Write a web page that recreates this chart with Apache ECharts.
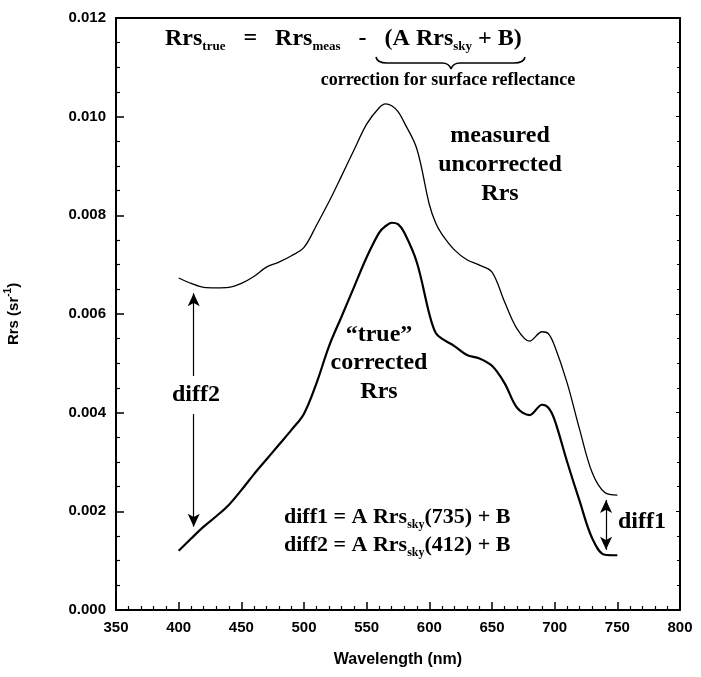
<!DOCTYPE html>
<html><head><meta charset="utf-8">
<script src="https://cdn.jsdelivr.net/npm/echarts@6/dist/echarts.min.js"></script>
<style>html,body{margin:0;padding:0;background:#fff}#c{width:701px;height:677px}</style>
</head><body><div id="c"></div>
<script>
// ---- data ----
const wavelengths = [400,410,420,430,440,450,460,470,480,490,500,510,520,530,540,550,560,565,570,575,580,590,600,605,610,620,630,640,650,660,670,680,690,695,700,710,720,730,740,750];
const measuredRrs = [6.73,6.62,6.54,6.53,6.54,6.62,6.76,6.95,7.05,7.18,7.35,7.80,8.28,8.80,9.33,9.85,10.18,10.26,10.22,10.10,9.88,9.35,8.22,7.85,7.62,7.30,7.10,6.99,6.85,6.25,5.70,5.45,5.64,5.60,5.35,4.60,3.65,2.78,2.38,2.33];
const trueRrs = [1.20,1.45,1.69,1.90,2.13,2.43,2.75,3.05,3.35,3.65,3.98,4.60,5.35,5.95,6.55,7.15,7.65,7.78,7.85,7.82,7.65,7.05,6.00,5.62,5.50,5.35,5.17,5.10,4.95,4.60,4.10,3.95,4.16,4.10,3.85,3.00,2.20,1.45,1.12,1.11];
const scale = 1e-3;
const xTickValues = [350,400,450,500,550,600,650,700,750,800];
const yTickValues = [0.000,0.002,0.004,0.006,0.008,0.010,0.012];
const diff2Arrow = [412, 6.42, 1.69];
const diff1Arrow = [741, 2.23, 1.22];

const chart = echarts.init(document.getElementById('c'), null, {renderer:'canvas'});
const sans = '"Liberation Sans", Arial, sans-serif';
const serif = '"Liberation Serif", "Times New Roman", serif';

const pairs = (ys) => wavelengths.map((w,i)=>[w, ys[i]*scale]);

const xBase = {
  type:'value', min:xTickValues[0], max:xTickValues[xTickValues.length-1], interval:50,
  axisLine:{show:true, onZero:false, lineStyle:{color:'#000', width:2}},
  axisTick:{show:true, inside:true, length:8, lineStyle:{color:'#000', width:1.5}},
  minorTick:{show:true, splitNumber:5, length:4, lineStyle:{color:'#000', width:1.2}},
  splitLine:{show:false}
};
const yBase = {
  type:'value', min:yTickValues[0], max:yTickValues[yTickValues.length-1], interval:0.002,
  axisLine:{show:true, onZero:false, lineStyle:{color:'#000', width:2}},
  axisTick:{show:true, inside:true, length:8, lineStyle:{color:'#000', width:1.5}},
  minorTick:{show:true, splitNumber:4, length:4, lineStyle:{color:'#000', width:1.2}},
  splitLine:{show:false}
};

const braceStyle = {stroke:'#000', fill:null, lineWidth:1.6};
const lbl = {fontSize:24, fontFamily:serif, fontWeight:'bold', fill:'#000'};

const option = {
  animation:false,
  backgroundColor:'#fff',
  grid:{left:116, right:21, top:18, bottom:67, containLabel:false, outerBoundsMode:'none'},
  xAxis:[
    Object.assign({}, xBase, {
      position:'bottom',
      axisLabel:{show:true, color:'#000', fontFamily:sans, fontWeight:'bold', fontSize:15, margin:10},
      name:'Wavelength (nm)', nameLocation:'middle', nameGap:42,
      nameTextStyle:{color:'#000', fontFamily:sans, fontWeight:'bold', fontSize:16}
    }),
    Object.assign({}, xBase, {position:'top', axisLabel:{show:false}, minorTick:{show:false}, axisTick:{show:false}})
  ],
  yAxis:[
    Object.assign({}, yBase, {
      position:'left',
      axisLabel:{show:true, color:'#000', fontFamily:sans, fontWeight:'bold', fontSize:15, margin:10,
        formatter:(v)=>v.toFixed(3)},
      name:'Rrs (sr{sup|-1})', nameLocation:'middle', nameGap:91, nameRotate:90,
      nameTextStyle:{color:'#000', fontFamily:sans, fontWeight:'bold', fontSize:15, lineHeight:22,
        rich:{sup:{fontSize:10, fontFamily:sans, fontWeight:'bold', verticalAlign:'top', lineHeight:14}}}
    }),
    Object.assign({}, yBase, {position:'right', axisLabel:{show:false}, minorTick:{show:true, splitNumber:4, length:3, lineStyle:{color:'#000'}}, axisTick:{show:true, inside:true, length:4, lineStyle:{color:'#000'}}})
  ],
  series:[
    {
      name:'measured', type:'line', data:pairs(measuredRrs), showSymbol:false, smooth:0.35,
      lineStyle:{color:'#000', width:1.3}, silent:true,
      markLine:{
        silent:true, symbol:['arrow','arrow'], symbolSize:[9,13], label:{show:false},
        lineStyle:{color:'#000', width:1.2, type:'solid'},
        data:[
          [{coord:[diff2Arrow[0], diff2Arrow[1]*scale]},{coord:[diff2Arrow[0], diff2Arrow[2]*scale]}],
          [{coord:[diff1Arrow[0], diff1Arrow[1]*scale]},{coord:[diff1Arrow[0], diff1Arrow[2]*scale]}]
        ]
      }
    },
    {
      name:'true', type:'line', data:pairs(trueRrs), showSymbol:false, smooth:0.35,
      lineStyle:{color:'#000', width:2.2}, silent:true
    }
  ],
  graphic:[
    {type:'text', z:100, style:{
      x:165, y:39, align:'left', verticalAlign:'middle',
      text:'{m|Rrs}{s|true}{m|   =   Rrs}{s|meas}{m|   -   (A Rrs}{s|sky}{m| + B)}',
      rich:{
        m:{fontSize:24, fontFamily:serif, fontWeight:'bold', fill:'#000', lineHeight:28, verticalAlign:'middle'},
        s:{fontSize:13, fontFamily:serif, fontWeight:'bold', fill:'#000', lineHeight:8, verticalAlign:'bottom'}
      }
    }},
    {type:'group', z:100, children:[
      {type:'bezierCurve', shape:{x1:376,y1:57,cpx1:377,cpy1:63,x2:387,y2:63}, style:braceStyle},
      {type:'line', shape:{x1:387,y1:63,x2:442,y2:63}, style:braceStyle},
      {type:'bezierCurve', shape:{x1:442,y1:63,cpx1:449,cpy1:63,x2:451,y2:69}, style:braceStyle},
      {type:'bezierCurve', shape:{x1:451,y1:69,cpx1:453,cpy1:63,x2:460,y2:63}, style:braceStyle},
      {type:'line', shape:{x1:460,y1:63,x2:514,y2:63}, style:braceStyle},
      {type:'bezierCurve', shape:{x1:514,y1:63,cpx1:524,cpy1:63,x2:525,y2:57}, style:braceStyle}
    ]},
    {type:'text', z:100, style:{x:448, y:80, align:'center', verticalAlign:'middle',
      text:'correction for surface reflectance', fontSize:18, fontFamily:serif, fontWeight:'bold', fill:'#000'}},
    {type:'text', z:100, style:Object.assign({x:500, y:165, align:'center', verticalAlign:'middle',
      text:'measured\nuncorrected\nRrs', lineHeight:29}, lbl)},
    {type:'text', z:100, style:Object.assign({x:379, y:363, align:'center', verticalAlign:'middle',
      text:'\u201Ctrue\u201D\ncorrected\nRrs', lineHeight:28.5}, lbl)},
    {type:'text', z:100, style:Object.assign({x:196, y:395, align:'center', verticalAlign:'middle',
      text:'diff2', backgroundColor:'#fff', padding:[7,2,7,2]}, lbl)},
    {type:'text', z:100, style:Object.assign({x:618, y:522, align:'left', verticalAlign:'middle',
      text:'diff1'}, lbl)},
    {type:'text', z:100, style:{x:284, y:531, align:'left', verticalAlign:'middle',
      text:'{m|diff1 = A Rrs}{s|sky}{m|(735) + B}\n{m|diff2 = A Rrs}{s|sky}{m|(412) + B}',
      rich:{
        m:{fontSize:22, fontFamily:serif, fontWeight:'bold', fill:'#000', lineHeight:28, verticalAlign:'middle'},
        s:{fontSize:12, fontFamily:serif, fontWeight:'bold', fill:'#000', lineHeight:8, verticalAlign:'bottom'}
      }
    }}
  ]
};
chart.setOption(option);
</script>
</body></html>
